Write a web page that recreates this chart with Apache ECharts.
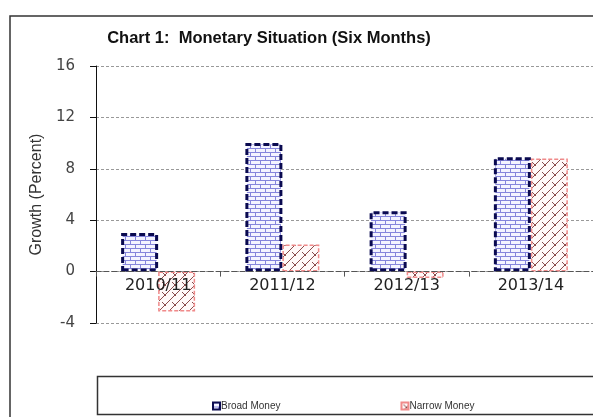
<!DOCTYPE html>
<html>
<head>
<meta charset="utf-8">
<script src="https://cdn.jsdelivr.net/npm/echarts@6/dist/echarts.min.js"></script>
<style>
  html, body { margin: 0; padding: 0; background: #fff; }
</style>
</head>
<body>
<div id="main" style="width: 593px; height: 417px"></div>
<script type="text/javascript">
  // data
  var years = ['2010/11', '2011/12', '2012/13', '2013/14'];
  var broadMoney = [3.0, 10.0, 4.7, 8.9];
  var narrowMoney = [-3.1, 2.1, -0.5, 8.8];
  var yTicks = [-4, 0, 4, 8, 12, 16];

  // brick fill for broad money
  function brickPattern() {
    var c = document.createElement('canvas');
    c.width = 10; c.height = 8;
    var g = c.getContext('2d');
    g.fillStyle = '#f4f4ff';
    g.fillRect(0, 0, 10, 8);
    g.strokeStyle = '#8585dc';
    g.lineWidth = 1;
    g.beginPath();
    g.moveTo(0, 0.5); g.lineTo(10, 0.5);
    g.moveTo(0, 4.5); g.lineTo(10, 4.5);
    g.moveTo(0.5, 0); g.lineTo(0.5, 4);
    g.moveTo(5.5, 4); g.lineTo(5.5, 8);
    g.stroke();
    return c;
  }

  // weave fill for narrow money
  function weavePattern() {
    var c = document.createElement('canvas');
    c.width = 10; c.height = 10;
    var g = c.getContext('2d');
    g.fillStyle = '#fff8f8';
    g.fillRect(0, 0, 10, 10);
    g.strokeStyle = '#8a4a4a';
    g.lineWidth = 1;
    g.beginPath();
    g.moveTo(0, 10); g.lineTo(10, 0);
    g.moveTo(-5, 5); g.lineTo(5, -5);
    g.moveTo(5, 15); g.lineTo(15, 5);
    g.moveTo(2, 2); g.lineTo(6, 6);
    g.stroke();
    return c;
  }

  var myChart = echarts.init(document.getElementById('main'));

  // the category axis sits on the zero line
  var gridTop = 66, gridHeight = 257;
  var zeroOffset = -gridHeight * (0 - yTicks[0]) / (yTicks[yTicks.length - 1] - yTicks[0]);

  myChart.setOption({
    backgroundColor: '#fff',
    animation: false,
    textStyle: { fontFamily: 'Liberation Sans, Arial, sans-serif' },
    title: {
      text: 'Chart 1:  Monetary Situation (Six Months)',
      left: 264,
      top: 25,
      textAlign: 'center',
      textStyle: { fontSize: 16.5, fontWeight: 'bold', color: '#111' }
    },
    legend: {
      left: 207,
      top: 396,
      itemWidth: 7,
      itemHeight: 7,
      itemGap: 120,
      icon: 'rect',
      textStyle: { fontSize: 10, color: '#333', padding: [0, 0, 0, -4] },
      data: ['Broad Money', 'Narrow Money']
    },
    grid: { left: 96, top: gridTop, width: 500, height: gridHeight },
    xAxis: {
      type: 'category',
      data: years,
      z: 5,
      offset: zeroOffset,
      axisLine: { onZero: false, lineStyle: { color: '#555', type: [5, 3], width: 1 } },
      axisTick: { show: true, length: 5, lineStyle: { color: '#555' } },
      axisLabel: { fontSize: 16, fontFamily: 'DejaVu Sans', color: '#222', margin: 6 }
    },
    yAxis: {
      type: 'value',
      min: yTicks[0],
      max: yTicks[yTicks.length - 1],
      interval: 4,
      name: 'Growth (Percent)',
      nameLocation: 'middle',
      nameGap: 50,
      nameTextStyle: { fontSize: 16, color: '#333' },
      axisLine: { show: true, lineStyle: { color: '#111', width: 1 } },
      axisTick: { show: true, length: 6, lineStyle: { color: '#111' } },
      axisLabel: { fontSize: 15, fontFamily: 'DejaVu Sans', color: '#444', margin: 21 },
      splitLine: { lineStyle: { color: '#999', type: [3, 2] } }
    },
    series: [
      {
        name: 'Broad Money',
        type: 'bar',
        data: broadMoney,
        barWidth: 37,
        barGap: '0%',
        itemStyle: {
          color: { image: brickPattern(), repetition: 'repeat' },
          borderColor: '#0a0a50',
          borderWidth: 3,
          borderType: [6, 3]
        }
      },
      {
        name: 'Narrow Money',
        type: 'bar',
        data: narrowMoney,
        barWidth: 37,
        itemStyle: {
          color: { image: weavePattern(), repetition: 'repeat' },
          borderColor: '#f08a8a',
          borderWidth: 1.5,
          borderType: [4, 2]
        }
      }
    ],
    graphic: [
      {
        type: 'rect',
        shape: { x: 10, y: 16, width: 600, height: 420 },
        style: { fill: null, stroke: '#333', lineWidth: 1.5 },
        silent: true
      },
      {
        type: 'rect',
        shape: { x: 97.5, y: 376.5, width: 520, height: 38 },
        style: { fill: null, stroke: '#333', lineWidth: 1.5 },
        silent: true
      }
    ]
  });
</script>
</body>
</html>
